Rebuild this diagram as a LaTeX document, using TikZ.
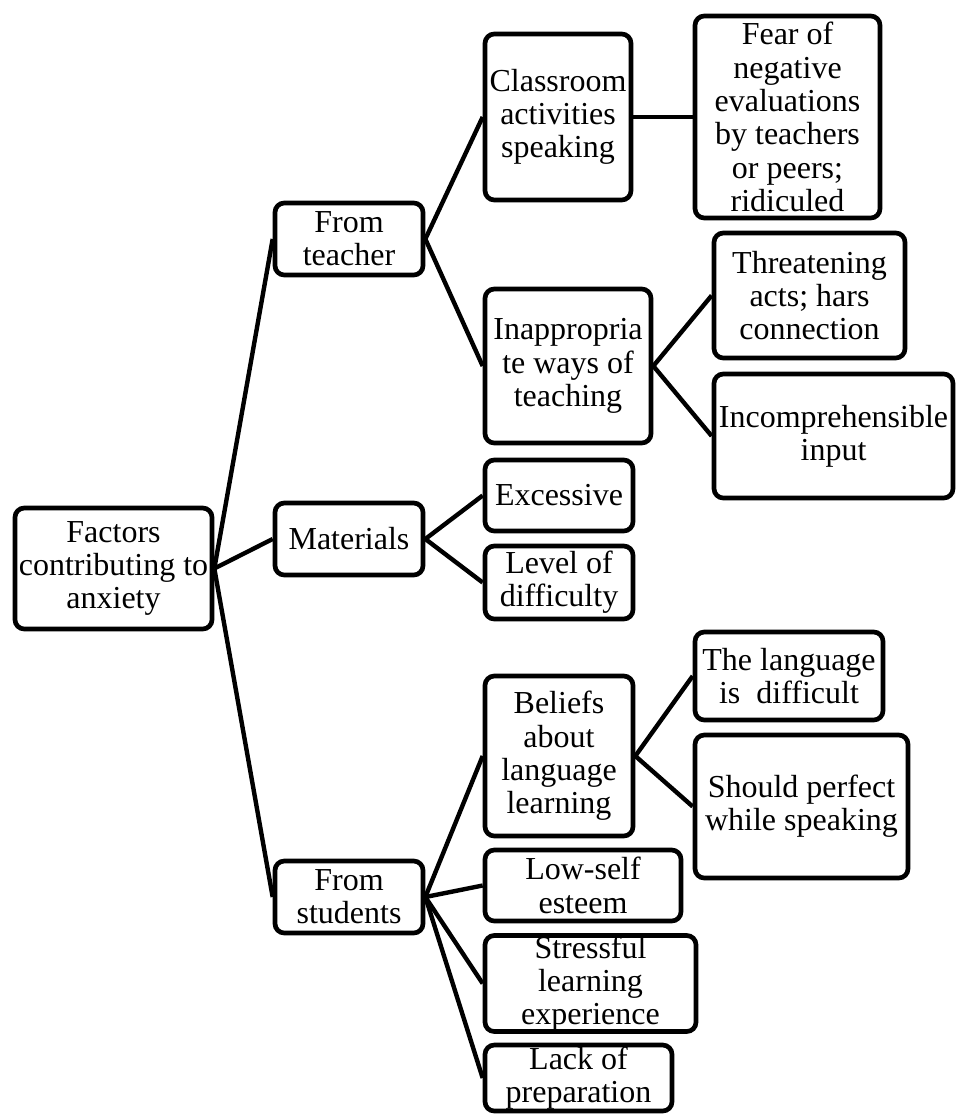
\documentclass[tikz,border=0pt]{standalone}
\usepackage{fontspec}
\setmainfont{Liberation Serif}
\tikzset{
  box/.style={draw=black, line width=3.5pt, rounded corners=7pt, fill=white,
    align=center, inner sep=0pt, font=\fontsize{24}{25}\selectfont},
  conn/.style={draw=black, line width=3.3pt}
}
\begin{document}
\begin{tikzpicture}[x=0.75pt, y=-0.75pt]
\useasboundingbox (0,0) rectangle (957,1116);
% level 0
\node[box, minimum width=147.75pt, minimum height=90.75pt] (root) at (113.5,568.5) {Factors\\contributing to\\anxiety};
% level 1
\node[box, minimum width=111pt, minimum height=54pt] (teacher) at (349,239) {From\\teacher};
\node[box, minimum width=111pt, minimum height=54pt] (materials) at (349,539) {Materials};
\node[box, minimum width=111pt, minimum height=54pt] (students) at (349,897) {From\\students};
% level 2
\node[box, minimum width=109.5pt, minimum height=124.5pt] (classroom) at (558,117) {Classroom\\activities\\speaking};
\node[box, minimum width=124.5pt, minimum height=115.5pt] (inapp) at (568,366) {Inappropria\\te ways of\\teaching};
\node[box, minimum width=111pt, minimum height=53.25pt] (excessive) at (559,495.5) {Excessive};
\node[box, minimum width=111pt, minimum height=54.75pt] (level) at (559,582.5) {Level of\\difficulty};
\node[box, minimum width=111pt, minimum height=120pt] (beliefs) at (559,756) {Beliefs\\about\\language\\learning};
\node[box, minimum width=147pt, minimum height=53.25pt] (lowself) at (583,885.5) {Low-self\\esteem};
\node[box, minimum width=158.25pt, minimum height=69.75pt] (stressful) at (590.5,983.5) {Stressful\\learning\\experience};
\node[box, minimum width=140.25pt, minimum height=49.5pt] (lack) at (578.5,1078) {Lack of\\preparation};
% level 3
\node[box, minimum width=138.75pt, minimum height=151.5pt] (fear) at (787.5,117) {Fear of\\negative\\evaluations\\by teachers\\or peers;\\ridiculed};
\node[box, minimum width=143.25pt, minimum height=93.75pt] (threat) at (809.5,295.5) {Threatening\\acts; hars\\connection};
\node[box, minimum width=179.25pt, minimum height=93pt] (incomp) at (833.5,436) {Incomprehensible\\input};
\node[box, minimum width=141pt, minimum height=66pt] (language) at (789,676) {The language\\is~ difficult};
\node[box, minimum width=159.75pt, minimum height=107.25pt] (should) at (801.5,806.5) {Should perfect\\while speaking};
% connectors
\draw[conn] (root.east) -- (teacher.west);
\draw[conn] (root.east) -- (materials.west);
\draw[conn] (root.east) -- (students.west);
\draw[conn] (teacher.east) -- (classroom.west);
\draw[conn] (teacher.east) -- (inapp.west);
\draw[conn] (classroom.east) -- (fear.west);
\draw[conn] (inapp.east) -- (threat.west);
\draw[conn] (inapp.east) -- (incomp.west);
\draw[conn] (materials.east) -- (excessive.west);
\draw[conn] (materials.east) -- (level.west);
\draw[conn] (students.east) -- (beliefs.west);
\draw[conn] (students.east) -- (lowself.west);
\draw[conn] (students.east) -- (stressful.west);
\draw[conn] (students.east) -- (lack.west);
\draw[conn] (beliefs.east) -- (language.west);
\draw[conn] (beliefs.east) -- (should.west);
\end{tikzpicture}
\end{document}
